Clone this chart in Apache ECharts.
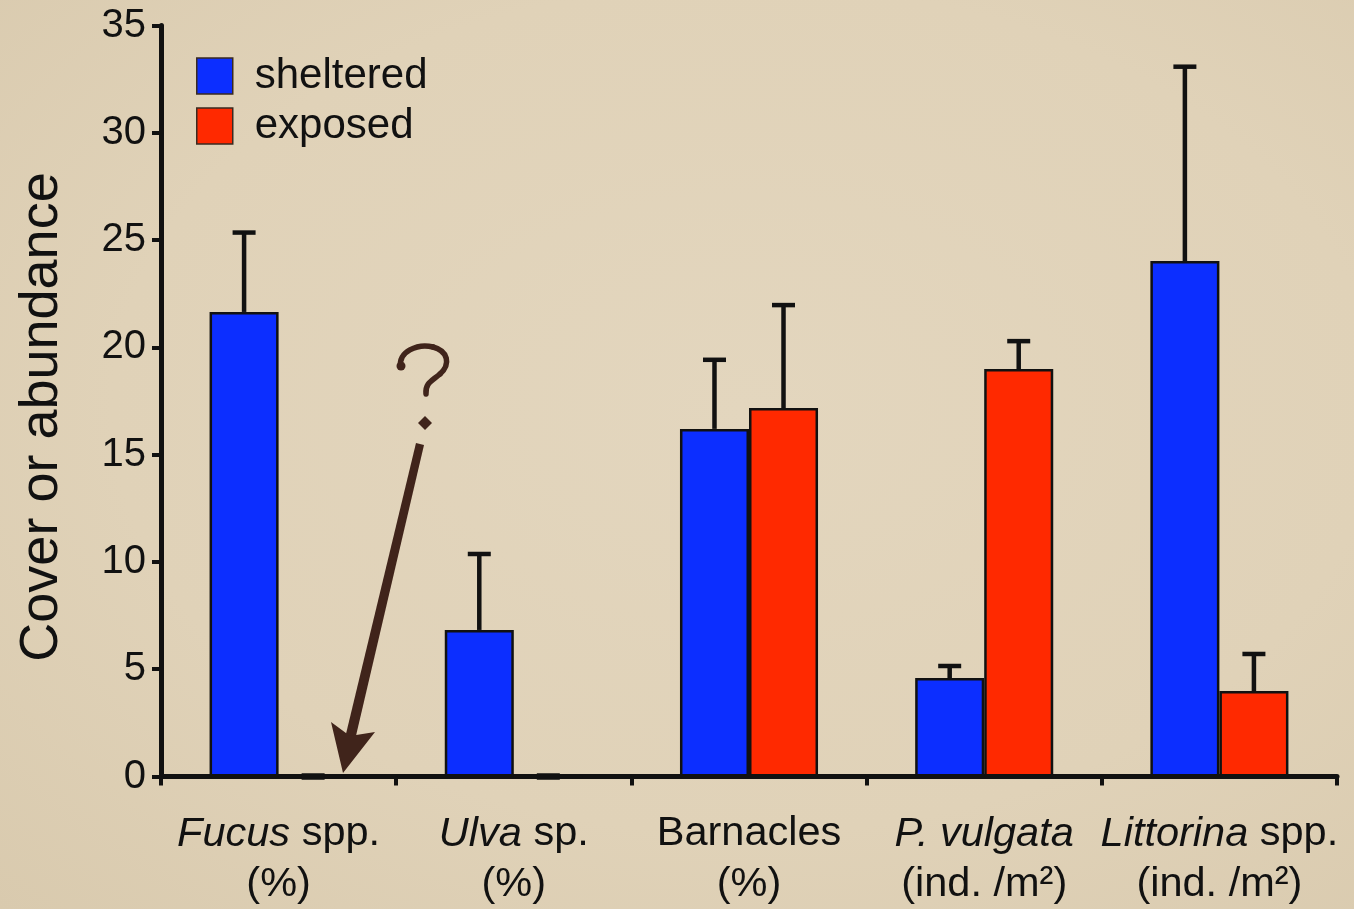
<!DOCTYPE html>
<html>
<head>
<meta charset="utf-8">
<title>Cover or abundance — sheltered vs exposed shores</title>
<script src="https://cdn.jsdelivr.net/npm/echarts@6/dist/echarts.min.js"></script>
<style>
  html, body { margin: 0; padding: 0; }
  body {
    width: 1354px; height: 909px; overflow: hidden;
    background: radial-gradient(ellipse at 55% 45%, #e3d6be 0%, #e0d2b8 60%, #d9caae 100%);
  }
  #chart { width: 1354px; height: 909px; }
</style>
</head>
<body>
<div id="chart"></div>
<script>
// Category labels: italic taxon name, plain suffix, and unit line
const catItalic = ['Fucus', 'Ulva', '', 'P. vulgata', 'Littorina'];
const catPlain  = [' spp.', ' sp.', 'Barnacles', '', ' spp.'];
const catUnits  = ['(%)', '(%)', '(%)', '(ind. /m\u00B2)', '(ind. /m\u00B2)'];
const categories = catItalic.map((s, i) => s + catPlain[i]);

// Mean values and upper error (SE) per group
const sheltered    = [21.65, 6.83, 16.2, 4.59, 24.02];
const shelteredErr = [3.70, 3.54, 3.22, 0.56, 9.06];
const exposed      = [0, 0, 17.17, 18.99, 3.98];
const exposedErr   = [0, 0, 4.80, 1.30, 1.73];

// Y axis ticks
const yMin = 0, yMax = 35, yStep = 5;

const BLUE = '#0c2eff';
const RED = '#ff2900';
const INK = '#111111';
const BROWN = '#40241b';
const GAP = 0.413; // barCategoryGap fraction

const font = '"Liberation Sans", Arial, Helvetica, sans-serif';

function errorSeries(name, values, errs, side) {
  return {
    type: 'custom',
    name: name + ' error',
    z: 5,
    silent: true,
    data: values.map((v, i) => [i, v, v + errs[i]]),
    encode: { x: 0, y: [1, 2] },
    renderItem: function (params, api) {
      const idx = api.value(0);
      const base = api.coord([idx, api.value(1)]);
      const top = api.coord([idx, api.value(2)]);
      const band = api.size([1, 0])[0];
      const barW = band * (1 - GAP) / 2;
      const x = base[0] + side * barW / 2;
      const capHalf = 11.5;
      const style = { stroke: INK, lineWidth: 4.5, fill: null };
      const children = [{
        type: 'line',
        shape: { x1: x - capHalf, y1: top[1], x2: x + capHalf, y2: top[1] },
        style: base[1] - top[1] > 0.5 ? style : { stroke: INK, lineWidth: 6.5, fill: null }
      }];
      if (base[1] - top[1] > 0.5) {
        children.push({
          type: 'line',
          shape: { x1: x, y1: base[1], x2: x, y2: top[1] },
          style: style
        });
      }
      return { type: 'group', children: children };
    }
  };
}

const chart = echarts.init(document.getElementById('chart'), null, { renderer: 'canvas' });

const curveStyle = { stroke: BROWN, lineWidth: 5.5, fill: null, lineCap: 'round' };

chart.setOption({
  backgroundColor: 'transparent',
  animation: false,
  textStyle: { fontFamily: font, color: INK },
  grid: { left: 161, right: 17, top: 25.5, bottom: 132.5, containLabel: false },
  legend: {
    orient: 'vertical',
    left: 196,
    top: 55,
    padding: 0,
    itemWidth: 36,
    itemHeight: 36,
    itemGap: 8,
    icon: 'rect',
    data: ['sheltered', 'exposed'],
    itemStyle: { borderColor: '#3a2a20', borderWidth: 1.5 },
    textStyle: {
      fontFamily: font, fontSize: 42, color: INK,
      lineHeight: 36, padding: [0, 0, 0, 17]
    }
  },
  xAxis: {
    type: 'category',
    data: categories,
    boundaryGap: true,
    axisLine: { lineStyle: { color: INK, width: 5 } },
    axisTick: { show: true, length: 9, lineStyle: { color: INK, width: 4 } },
    axisLabel: {
      margin: 32,
      interval: 0,
      formatter: function (value, index) {
        let first = '';
        if (catItalic[index]) first += '{it|' + catItalic[index] + '}';
        if (catPlain[index]) first += '{n|' + catPlain[index] + '}';
        return first + '\n{n|' + catUnits[index] + '}';
      },
      rich: {
        it: { fontFamily: font, fontStyle: 'italic', fontSize: 41.5, color: INK, lineHeight: 51 },
        n: { fontFamily: font, fontSize: 41.5, color: INK, lineHeight: 51 }
      }
    }
  },
  yAxis: {
    type: 'value',
    min: yMin,
    max: yMax,
    interval: yStep,
    name: 'Cover or abundance',
    nameLocation: 'middle',
    nameRotate: 90,
    nameGap: 92,
    nameTextStyle: { fontFamily: font, fontSize: 54, color: INK, padding: [0, 32, 0, 0] },
    splitLine: { show: false },
    axisLine: { show: true, lineStyle: { color: INK, width: 5 } },
    axisTick: { show: true, length: 9, lineStyle: { color: INK, width: 4 } },
    axisLabel: { margin: 15, fontFamily: font, fontSize: 40, color: INK }
  },
  series: [
    {
      name: 'sheltered',
      type: 'bar',
      data: sheltered,
      barGap: '0%',
      barCategoryGap: (GAP * 100) + '%',
      itemStyle: { color: BLUE, borderColor: INK, borderWidth: 2.5 },
      z: 3
    },
    {
      name: 'exposed',
      type: 'bar',
      data: exposed,
      barGap: '0%',
      barCategoryGap: (GAP * 100) + '%',
      itemStyle: { color: RED, borderColor: INK, borderWidth: 2.5 },
      z: 3
    },
    errorSeries('sheltered', sheltered, shelteredErr, -1),
    errorSeries('exposed', exposed, exposedErr, 1)
  ],
  // Hand-drawn question mark and arrow pointing at the missing Fucus value
  graphic: [
    {
      type: 'group',
      silent: true,
      z: 10,
      children: [
        {
          type: 'bezierCurve',
          shape: { x1: 401, y1: 367, cpx1: 397, cpy1: 352, cpx2: 418, cpy2: 343, x2: 433, y2: 347 },
          style: curveStyle
        },
        {
          type: 'bezierCurve',
          shape: { x1: 433, y1: 347, cpx1: 448, cpy1: 351, cpx2: 451, cpy2: 364, x2: 440, y2: 374 },
          style: curveStyle
        },
        {
          type: 'bezierCurve',
          shape: { x1: 440, y1: 374, cpx1: 432, cpy1: 381, cpx2: 425, cpy2: 383, x2: 426, y2: 394 },
          style: curveStyle
        },
        {
          type: 'circle',
          shape: { cx: 401, cy: 366, r: 4.5 },
          style: { fill: BROWN }
        },
        {
          type: 'polygon',
          shape: { points: [[425, 416], [432, 423], [425, 430], [418, 423]] },
          style: { fill: BROWN }
        },
        {
          type: 'polygon',
          shape: { points: [[416, 443], [424, 445], [355, 740], [345, 738]] },
          style: { fill: BROWN }
        },
        {
          type: 'polygon',
          shape: { points: [[343, 773], [331, 722], [350, 736], [375, 732]] },
          style: { fill: BROWN }
        }
      ]
    }
  ]
});
</script>
</body>
</html>
